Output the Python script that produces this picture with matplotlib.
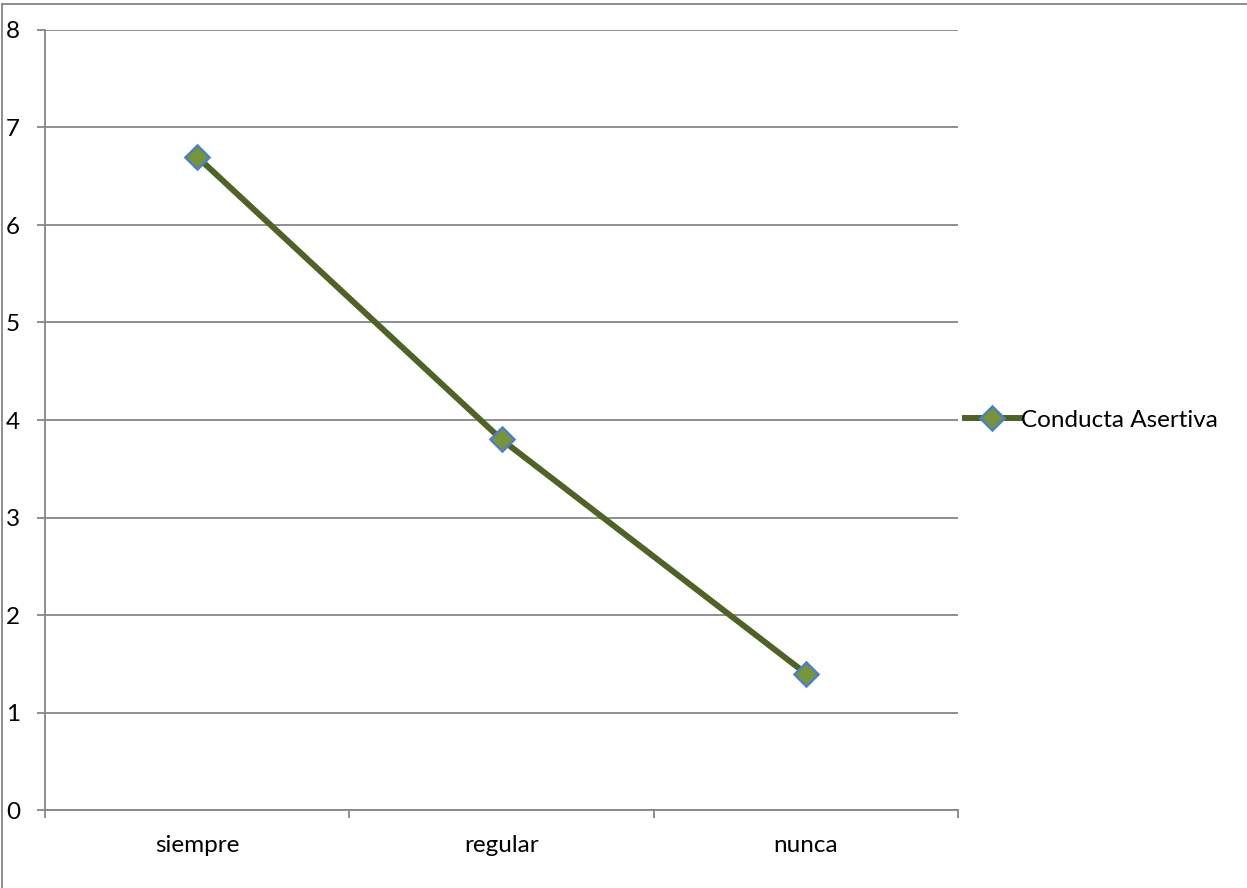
import matplotlib.pyplot as plt
from matplotlib.lines import Line2D

categorias = ["siempre", "regular", "nunca"]
valores = [6.7, 3.8, 1.4]
serie = "Conducta Asertiva"

plt.rcParams['font.family'] = ['Lato', 'DejaVu Sans']

fig = plt.figure(figsize=(12.47, 8.88), dpi=100)
ax = fig.add_axes([45 / 1247, 1 - 810 / 888, 913 / 1247, 780 / 888])

gris = "#868686"
x = list(range(len(categorias)))
ax.plot(x, valores, color="#4F6228", linewidth=4.3, marker="D", markersize=12,
        markerfacecolor="#77933C", markeredgecolor="#4F81BD", markeredgewidth=1.8,
        label=serie, zorder=3)

ax.set_xlim(-0.5, len(categorias) - 0.5)
ax.set_ylim(0, 8)
ax.set_yticks(range(0, 9))
ax.yaxis.grid(True, color=gris, linewidth=1.3)
ax.set_axisbelow(True)

# ticks en los limites de categoria, etiquetas centradas
ax.set_xticks([i - 0.5 for i in range(len(categorias) + 1)])
ax.set_xticklabels([])
ax.set_xticks(x, minor=True)
ax.set_xticklabels(categorias, minor=True)
ax.tick_params(axis="x", which="minor", length=0, pad=18, labelsize=17.5)
ax.tick_params(axis="x", which="major", length=6, width=1.3, color=gris)
ax.tick_params(axis="y", length=6, width=1.3, color=gris, labelsize=17.5, pad=12)

for s in ["top", "right"]:
    ax.spines[s].set_visible(False)
for s in ["left", "bottom"]:
    ax.spines[s].set_color(gris)
    ax.spines[s].set_linewidth(1.3)

ax.legend(loc="center left", bbox_to_anchor=(1.0077, 0.5), frameon=False,
          fontsize=17.5, handlelength=2.26, handletextpad=0.05,
          borderpad=0, borderaxespad=0)

# borde del grafico
fig.add_artist(Line2D([2 / 1247, 2 / 1247], [0, 1 - 4 / 888], color=gris, linewidth=1.3))
fig.add_artist(Line2D([2 / 1247, 1], [1 - 4 / 888, 1 - 4 / 888], color=gris, linewidth=1.3))

fig.savefig("out.png", dpi=100)
